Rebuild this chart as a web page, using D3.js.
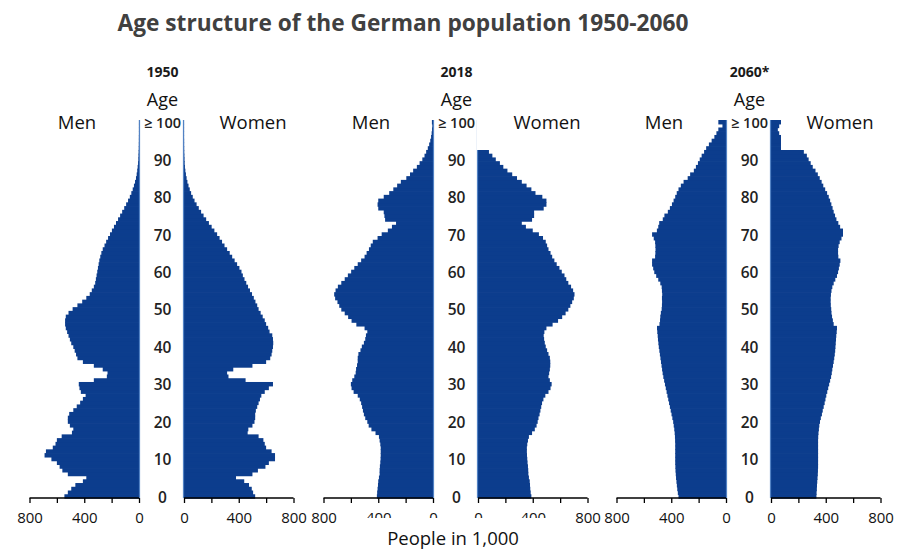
<!DOCTYPE html>
<html>
<head>
<meta charset="utf-8">
<script src="https://cdn.jsdelivr.net/npm/d3@7"></script>
<style>
  html, body { margin: 0; padding: 0; background: #fff; }
  svg { display: block; font-family: "Open Sans", "Liberation Sans", sans-serif; }
</style>
</head>
<body>
<svg id="chart" width="909" height="550"></svg>
<script>
// ---- Data (people in 1,000, by single year of age 0..100; 100 = "100 and over") ----
const years = ["1950", "2018", "2060*"];
const ageTicks = [0, 10, 20, 30, 40, 50, 60, 70, 80, 90, 100];
const ageTickLabels = ["0", "10", "20", "30", "40", "50", "60", "70", "80", "90", "\u2265 100"];
const valueTicks = [0, 200, 400, 600, 800];
const valueTickLabels = ["0", "", "400", "", "800"];

const men1950 = [545,520,495,465,410,385,520,560,580,600,640,690,680,630,610,600,565,490,480,505,
  520,520,510,480,455,430,410,390,425,435,440,330,235,230,265,330,410,450,460,470,
  480,495,505,515,525,535,540,540,535,515,485,450,415,385,360,345,330,320,315,310,
  305,300,295,290,283,275,265,252,240,226,212,198,183,168,153,138,123,108,94,80,
  67,56,46,37,29,22,17,13,10,7,5,4,3,2,1.5,1,1,0.5,0.5,0.5,0.5];
const women1950 = [520,505,495,475,440,380,500,540,595,620,665,665,640,600,590,580,545,465,470,500,
  515,520,520,525,535,545,555,565,590,620,650,450,325,315,360,500,600,630,640,645,
  650,652,650,645,625,615,600,590,575,560,545,535,522,510,497,482,468,455,442,430,
  420,405,388,370,352,334,315,296,278,260,242,222,202,182,162,143,125,108,92,77,
  64,52,42,33,25,19,14,10,7,5,4,3,2,1.5,1,1,0.5,0.5,0.5,0.5,0.5];

const men2018 = [410,408,405,402,400,395,390,390,388,385,383,382,382,382,385,390,395,420,450,470,
  480,495,505,512,518,525,535,550,580,595,600,590,575,565,562,555,550,550,545,530,
  520,505,495,490,480,500,560,595,620,645,670,685,698,715,722,712,695,670,645,622,
  598,575,550,525,500,485,468,455,440,405,375,330,300,270,350,355,360,400,405,400,
  360,320,290,262,235,195,168,145,118,98,78,62,50,38,28,20,14,10,7,5,8];
const women2018 = [390,385,382,380,378,372,368,367,365,362,360,358,357,357,360,365,372,395,415,428,
  436,442,450,456,462,468,478,492,515,530,538,525,515,520,525,528,528,525,515,505,
  495,488,483,480,485,500,545,585,615,640,660,675,688,700,705,695,680,660,645,632,
  612,595,575,558,542,530,515,505,495,475,445,400,350,320,395,410,410,480,500,500,
  470,420,390,355,320,285,250,215,185,160,130,105,80,60,45,33,24,17,12,8,15];

const men2060 = [347,352,356,359,362,365,367,369,370,371,371,371,371,371,371,372,373,375,378,382,
  386,392,398,404,410,416,422,428,434,440,446,452,458,463,467,471,475,479,483,487,
  491,494,497,499,502,504,486,482,480,476,470,468,467,468,466,468,470,480,495,510,
  524,532,540,540,518,516,515,516,518,528,540,505,495,488,462,450,425,410,395,383,
  371,360,347,330,310,280,262,235,220,205,192,178,160,145,125,105,85,70,56,26,56];
const women2060 = [332,333,335,336,338,340,342,343,344,344,344,344,344,344,344,344,345,347,350,353,
  358,364,372,378,385,392,398,404,411,418,425,432,439,444,448,453,458,462,466,469,
  471,473,475,477,480,482,458,452,446,442,440,437,436,436,438,442,448,458,470,482,
  490,496,502,507,492,490,490,494,502,515,526,526,505,492,478,468,458,450,441,432,
  422,410,396,382,370,356,342,325,305,290,275,262,240,220,195,170,140,60,50,60,110];

const menSeries = [men1950, men2018, men2060];
const womenSeries = [women1950, women2018, women2060];

// ---- Layout ----
const svg = d3.select("#chart");
const barColor = "#0c3d8d";
const edgeColor = "#5282c4";
const menZero = [139, 433, 726];
const gap = 45;
const halfW = 109.5;
const ages = d3.range(0, 101);
const y = d3.scaleBand().domain(ages).range([498, 120]).padding(0);
const bw = y.bandwidth();

// Title
const title = svg.append("text")
  .attr("x", 403).attr("y", 31)
  .attr("text-anchor", "middle")
  .attr("font-weight", "bold")
  .attr("font-size", 20)
  .attr("fill", "#404040")
  .text("Age structure of the German population 1950-2060");
{
  const len = title.node().getComputedTextLength();
  title.attr("font-size", 20 * 571 / len);
}

menSeries.forEach((men, i) => {
  const women = womenSeries[i];
  const mz = menZero[i];
  const wz = mz + gap;
  const xm = d3.scaleLinear().domain([0, 800]).range([mz, mz - halfW]);
  const xw = d3.scaleLinear().domain([0, 800]).range([wz, wz + halfW]);
  const cx = (mz + wz) / 2 + 1;
  const g = svg.append("g");

  // bars
  g.selectAll("rect.m").data(ages).join("rect")
    .attr("x", a => xm(men[a]))
    .attr("y", a => y(a))
    .attr("width", a => mz - xm(men[a]))
    .attr("height", bw + 0.7)
    .attr("fill", barColor);
  g.selectAll("rect.w").data(ages).join("rect")
    .attr("x", wz)
    .attr("y", a => y(a))
    .attr("width", a => xw(women[a]) - wz)
    .attr("height", bw + 0.7)
    .attr("fill", barColor);

  // light inner edges
  g.append("line").attr("x1", mz + 0.5).attr("x2", mz + 0.5)
    .attr("y1", y(100)).attr("y2", 498).attr("stroke", edgeColor).attr("stroke-width", 1.2);
  g.append("line").attr("x1", wz - 0.5).attr("x2", wz - 0.5)
    .attr("y1", y(100)).attr("y2", 498).attr("stroke", edgeColor).attr("stroke-width", 1.2);

  // axes
  const axM = d3.axisBottom(xm).tickValues(valueTicks).tickSize(5)
    .tickFormat((d, k) => valueTickLabels[k]);
  const axW = d3.axisBottom(xw).tickValues(valueTicks).tickSize(5)
    .tickFormat((d, k) => valueTickLabels[k]);
  [axM, axW].forEach(ax => {
    const ga = g.append("g").attr("transform", "translate(0,498)").call(ax);
    ga.select(".domain").remove();
    ga.selectAll(".tick line").attr("stroke", "#000").attr("stroke-width", 1.3);
    ga.selectAll(".tick text").attr("font-size", 15).attr("fill", "#111")
      .attr("y", 14).attr("font-family", "'Open Sans', sans-serif");
  });
  // axis baselines
  g.append("line").attr("x1", xm(800)).attr("x2", xm(0)).attr("y1", 498).attr("y2", 498)
    .attr("stroke", "#000").attr("stroke-width", 1.5);
  g.append("line").attr("x1", xw(0)).attr("x2", xw(800)).attr("y1", 498).attr("y2", 498)
    .attr("stroke", "#000").attr("stroke-width", 1.5);

  // age labels
  g.selectAll("text.age").data(ageTicks).join("text")
    .attr("x", cx)
    .attr("y", a => y(a) + bw / 2 + 1)
    .attr("dy", "0.35em")
    .attr("text-anchor", "middle")
    .attr("font-size", a => a === 100 ? 14.5 : 15.5)
    .attr("font-weight", 600)
    .attr("fill", "#222")
    .text((a, k) => ageTickLabels[k]);

  // header texts
  g.append("text").attr("x", cx).attr("y", 77).attr("text-anchor", "middle")
    .attr("font-weight", "bold").attr("font-size", 14).attr("fill", "#1a1a1a").text(years[i]);
  g.append("text").attr("x", cx).attr("y", 106).attr("text-anchor", "middle")
    .attr("font-size", 18).attr("fill", "#111").text("Age");

  // white label boxes behind "Women" (2018, 2060)
  if (i === 1) {
    g.append("rect").attr("x", wz - 1).attr("y", 100).attr("width", 100).attr("height", 50).attr("fill", "#fff");
  }
  if (i === 2) {
    g.append("rect").attr("x", wz + 10).attr("y", 100).attr("width", 100).attr("height", 50).attr("fill", "#fff");
  }
  g.append("text").attr("x", mz - 62).attr("y", 129).attr("text-anchor", "middle")
    .attr("font-size", 18.5).attr("fill", "#111").text("Men");
  g.append("text").attr("x", wz + 69).attr("y", 129).attr("text-anchor", "middle")
    .attr("font-size", 18.5).attr("fill", "#111").text("Women");
});

// bottom label with its white box
svg.append("rect").attr("x", 340).attr("y", 518).attr("width", 232).attr("height", 32).attr("fill", "#fff");
svg.append("text").attr("x", 453).attr("y", 545).attr("text-anchor", "middle")
  .attr("font-size", 18.5).attr("fill", "#111").text("People in 1,000");
</script>
</body>
</html>
